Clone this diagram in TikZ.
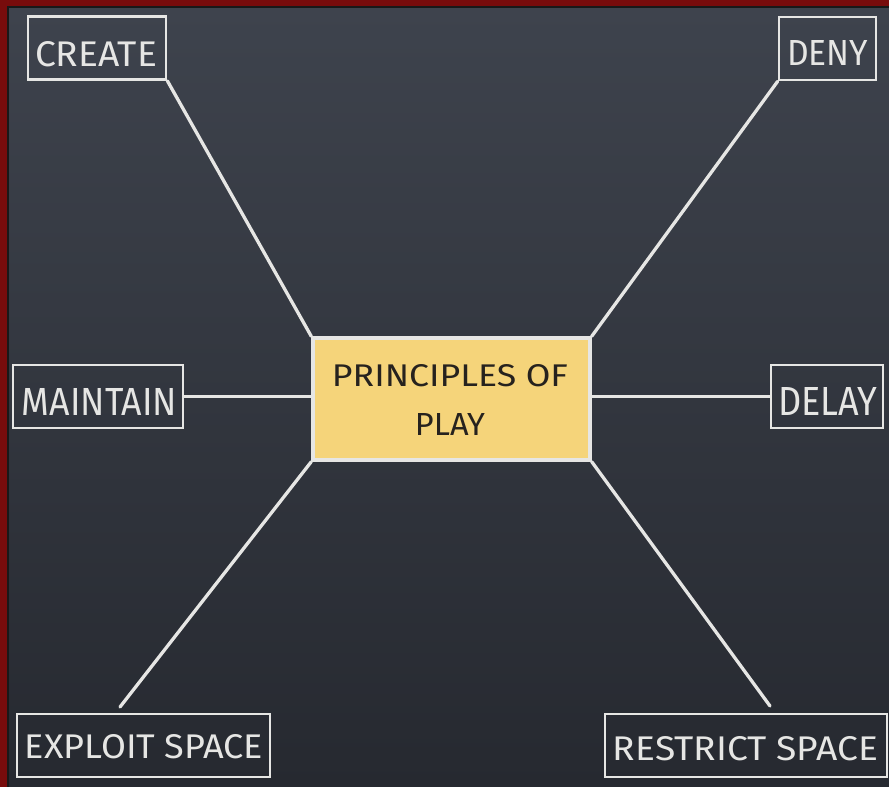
\documentclass[tikz,border=0pt]{standalone}
\usepackage{graphicx}
\usepackage{fontspec}
\setmainfont{Fira Sans}
\definecolor{boardtop}{RGB}{62,67,77}
\definecolor{boardbot}{RGB}{38,41,48}
\definecolor{frame}{RGB}{120,12,12}
\definecolor{chalk}{RGB}{230,230,228}
\definecolor{note}{RGB}{245,212,122}
\definecolor{ink}{RGB}{38,34,30}
\tikzset{
  chalkbox/.style={draw=chalk, line width=2.8pt, minimum height=63pt, inner sep=0pt},
  mainbox/.style={draw=chalk, fill=note, line width=3.5pt, minimum width=277pt, minimum height=122pt, inner sep=0pt},
  chalktext/.style={text=chalk, inner sep=0pt},
  inktext/.style={text=ink, inner sep=0pt},
  chalkline/.style={draw=chalk, line width=3.3pt, line cap=round}
}
\begin{document}
\begin{tikzpicture}[x=1pt,y=-1pt]
\useasboundingbox (0,0) rectangle (889,787);
\fill[black!90] (0,0) rectangle (889,787);
\fill[frame] (0,0) rectangle (7,787);
\fill[frame] (0,0) rectangle (889,6);
\shade[top color=boardtop, bottom color=boardbot] (9,8) rectangle (889,787);
% boxes
\node[mainbox] (center) at (451.5,399) {};
\node[chalkbox, minimum width=138pt] (create) at (97,48) {};
\node[chalkbox, minimum width=97pt] (deny) at (827.5,48.5) {};
\node[chalkbox, minimum width=170pt] (maintain) at (98,396.5) {};
\node[chalkbox, minimum width=112pt] (delay) at (827,396.5) {};
\node[chalkbox, minimum width=253pt] (exploit) at (143.5,745.5) {};
\node[chalkbox, minimum width=282pt] (restrict) at (746,745.5) {};
% texts
\node[chalktext] (createT) at (96,54.5) {\resizebox{122pt}{25pt}{CREATE}};
\node[chalktext] (denyT) at (827.5,52.5) {\resizebox{81pt}{25pt}{DENY}};
\node[chalktext] (maintainT) at (99.5,401.5) {\resizebox{155pt}{27pt}{MAINTAIN}};
\node[chalktext] (delayT) at (827.5,401) {\resizebox{99pt}{28pt}{DELAY}};
\node[chalktext] (exploitT) at (144,746.5) {\resizebox{238pt}{24pt}{EXPLOIT SPACE}};
\node[chalktext] (restrictT) at (745.5,748.5) {\resizebox{265pt}{24pt}{RESTRICT SPACE}};
\node[inktext] (principlesT) at (450,376) {\resizebox{236pt}{22pt}{PRINCIPLES OF}};
\node[inktext] (playT) at (450,424) {\resizebox{70pt}{22pt}{PLAY}};
% connectors
\coordinate (exploitEnd) at (120,707);
\coordinate (restrictEnd) at (770,706);
\draw[chalkline] (create.south east) -- (center.north west);
\draw[chalkline] (deny.south west) -- (center.north east);
\draw[chalkline] (maintain.east) -- (maintain.east -| center.west);
\draw[chalkline] (delay.west) -- (delay.west -| center.east);
\draw[chalkline] (exploitEnd) -- (center.south west);
\draw[chalkline] (restrictEnd) -- (center.south east);
\end{tikzpicture}
\end{document}
